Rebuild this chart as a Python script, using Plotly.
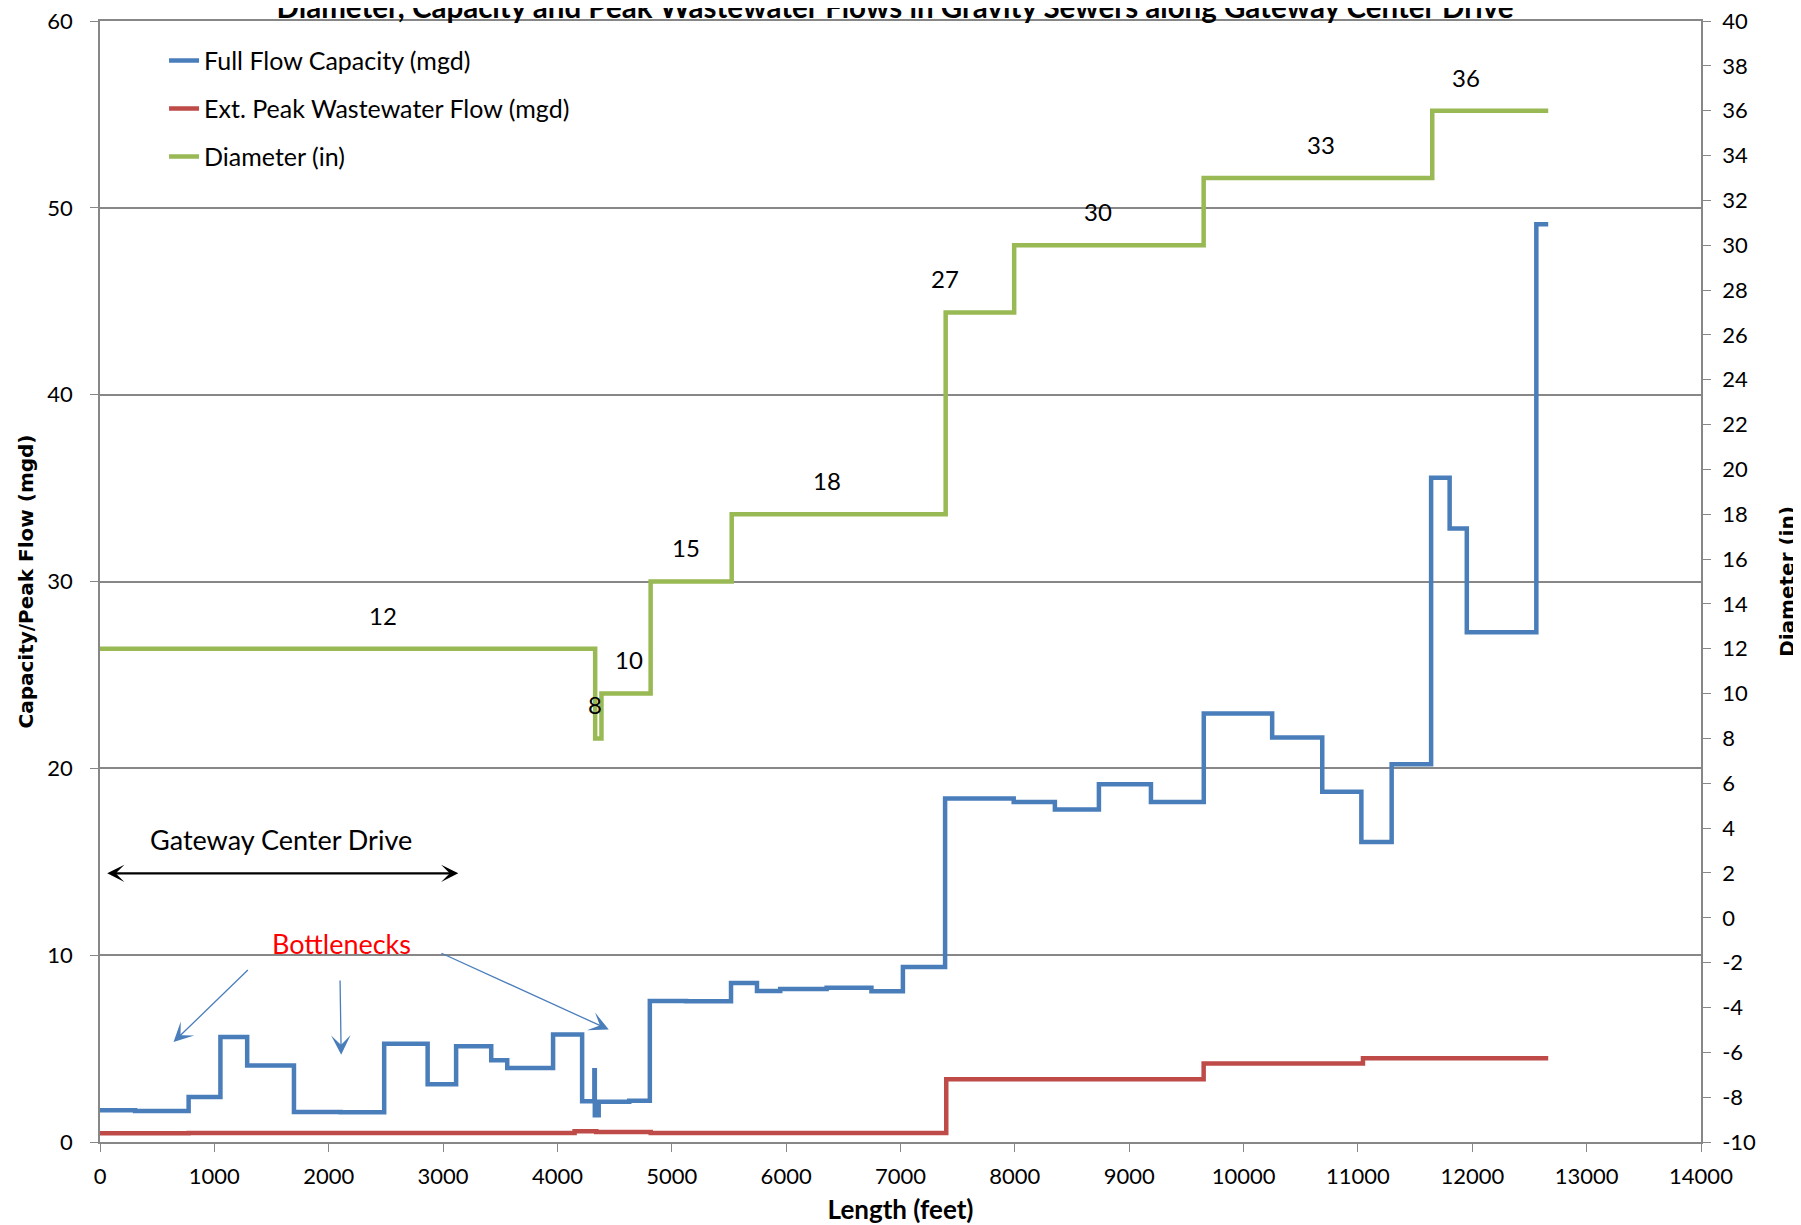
import plotly.graph_objects as go

# ---------------- data ----------------
# Full flow capacity (mgd): start of each step (ft) and its value
cap_length = [0, 307, 775, 1053, 1287, 1696, 2105, 2485, 2865, 3114, 3421, 3561, 3962,
              4216, 4323, 4327, 4361, 4628, 4808, 5126, 5518, 5745, 5948, 6354, 6746,
              7021, 7390, 7990, 8350, 8735, 9190, 9652, 10250, 10688, 11030, 11295,
              11640, 11802, 11952, 12560, 12664]
capacity = [1.70, 1.66, 2.41, 5.62, 4.10, 1.61, 1.59, 5.26, 3.09, 5.12, 4.37, 3.96, 5.76,
            2.18, 3.84, 1.43, 2.15, 2.21, 7.55, 7.53, 8.51, 8.08, 8.19, 8.26, 8.07,
            9.37, 18.38, 18.20, 17.79, 19.15, 18.20, 22.93, 21.65, 18.74, 16.06, 20.22,
            35.55, 32.84, 27.28, 49.12, 49.12]

# Ext. peak wastewater flow (mgd)
peak_length = [0, 775, 4150, 4340, 4816, 7400, 9651, 11044, 12664]
peak_flow = [0.47, 0.48, 0.57, 0.53, 0.48, 3.36, 4.20, 4.48, 4.48]

# Diameter (in)
dia_length = [0, 4330, 4385, 4815, 5524, 7395, 7994, 9651, 11650, 12664]
diameter = [12, 8, 10, 15, 18, 27, 30, 33, 36, 36]

# Diameter labels
dia_label_text = ["12", "8", "10", "15", "18", "27", "30", "33", "36"]
dia_label_value = [12, 8, 10, 15, 18, 27, 30, 33, 36]
dia_label_x = [2471, 4328, 4630, 5122, 6357, 7392, 8727, 10676, 11945]

# Ticks
x_ticks = list(range(0, 14001, 1000))
x_ticktext = [str(v) for v in x_ticks]
y_left_ticks = list(range(0, 61, 10))
y_right_ticks = list(range(-10, 41, 2))
y_right_ticktext = [str(v) for v in y_right_ticks]

# Text annotations
title_text = "Diameter, Capacity and Peak Wastewater Flows in Gravity Sewers along Gateway Center Drive"
road_label = "Gateway Center Drive"
road_label_pos = (1580, 16.2)
road_span = (50, 3133, 14.38)
bottleneck_label = "Bottlenecks"
bottleneck_label_pos = (2109, 10.63)
# bottleneck arrows: (tail x, tail y, head x, head y)
bottleneck_arrows = [(1306, 9.28, 643, 5.35),
                     (2099, 8.73, 2109, 4.67),
                     (2973, 10.14, 4449, 6.02)]

# ---------------- style ----------------
BLUE = "#4A7EBB"
RED = "#BE4B48"
GREEN = "#98B954"
GRID = "#878787"
FONT = "Lato"

fig = go.Figure()
fig.add_trace(go.Scatter(x=cap_length, y=capacity, mode="lines", line_shape="hv",
                         name="Full Flow Capacity (mgd)", legendgroup="a",
                         line=dict(color=BLUE, width=4.5)))
fig.add_trace(go.Scatter(x=peak_length, y=peak_flow, mode="lines", line_shape="hv",
                         name="Ext. Peak Wastewater Flow (mgd)", legendgroup="b",
                         line=dict(color=RED, width=4.5)))
fig.add_trace(go.Scatter(x=dia_length, y=diameter, mode="lines", line_shape="hv",
                         name="Diameter (in)", legendgroup="c", yaxis="y2",
                         line=dict(color=GREEN, width=4.5)))

annotations = []
for t, v, x in zip(dia_label_text, dia_label_value, dia_label_x):
    annotations.append(dict(x=x, y=v + 1.5, xref="x", yref="y2", text=t, showarrow=False,
                            font=dict(family=FONT, size=24, color="black")))

annotations.append(dict(x=road_label_pos[0], y=road_label_pos[1], xref="x", yref="y",
                        text=road_label, showarrow=False,
                        font=dict(family=FONT, size=27, color="black")))
annotations.append(dict(x=road_span[1], y=road_span[2], ax=road_span[0], ay=road_span[2],
                        xref="x", yref="y", axref="x", ayref="y", text="",
                        showarrow=True, arrowhead=3, startarrowhead=3, arrowside="end+start",
                        arrowsize=1.3, startarrowsize=1.3, arrowwidth=2.2, arrowcolor="black",
                        standoff=0, startstandoff=0))
annotations.append(dict(x=bottleneck_label_pos[0], y=bottleneck_label_pos[1], xref="x", yref="y",
                        text=bottleneck_label, showarrow=False,
                        font=dict(family=FONT, size=27, color="#FF0000")))
for tx, ty, hx, hy in bottleneck_arrows:
    annotations.append(dict(x=hx, y=hy, ax=tx, ay=ty, xref="x", yref="y", axref="x", ayref="y",
                            text="", showarrow=True, arrowhead=3, arrowsize=2.5,
                            arrowwidth=1.3, arrowcolor=BLUE, standoff=0))

fig.update_layout(
    width=1793, height=1217,
    margin=dict(l=92, r=100, t=13, b=83, autoexpand=False),
    paper_bgcolor="white", plot_bgcolor="white",
    font=dict(family=FONT, size=22, color="black"),
    title=dict(text="<b>" + title_text + "</b>", x=0.4966, xref="paper", xanchor="center",
               y=1, yref="container", yanchor="middle", automargin=False,
               font=dict(family=FONT, size=29.5, color="black")),
    showlegend=True,
    legend=dict(x=0.040, y=0.985, xanchor="left", yanchor="top",
                bgcolor="rgba(0,0,0,0)", traceorder="grouped", tracegroupgap=12.5,
                font=dict(family=FONT, size=25, color="black"), itemwidth=30),
    xaxis=dict(range=[0, 14000], tickvals=x_ticks, ticktext=x_ticktext,
               ticks="outside", ticklen=8, ticklabelstandoff=6, automargin=False,
               ticklabeloverflow="allow", mirror=True,
               tickcolor=GRID, showline=True, linecolor=GRID, linewidth=1.5,
               showgrid=False, zeroline=False,
               tickfont=dict(family=FONT, size=22, color="black"),
               title=dict(text="<b>Length (feet)</b>", standoff=14,
                          font=dict(family=FONT, size=26, color="black"))),
    yaxis=dict(range=[0, 60], tickvals=y_left_ticks, ticks="outside", ticklen=8,
               ticklabelstandoff=13, automargin=False, ticklabeloverflow="allow",
               tickcolor=GRID, showline=True, linecolor=GRID, linewidth=1.5,
               showgrid=True, gridcolor=GRID, gridwidth=1.5, zeroline=False,
               tickfont=dict(family=FONT, size=22, color="black"),
               title=dict(text="<b>Capacity/Peak Flow (mgd)</b>", standoff=8,
                          font=dict(family="DejaVu Sans", size=20, color="black"))),
    yaxis2=dict(range=[-10, 40], tickvals=y_right_ticks, ticktext=y_right_ticktext,
                overlaying="y", side="right", ticks="outside", ticklen=8,
                ticklabelstandoff=7, automargin=False, ticklabeloverflow="allow",
                tickcolor=GRID, showline=True, linecolor=GRID, linewidth=1.5,
                showgrid=False, zeroline=False,
                tickfont=dict(family=FONT, size=22, color="black"),
                title=dict(text="<b>Diameter (in)</b>", standoff=25,
                           font=dict(family="DejaVu Sans", size=20, color="black"))),
    annotations=annotations,
)

fig.write_html("out.html")
